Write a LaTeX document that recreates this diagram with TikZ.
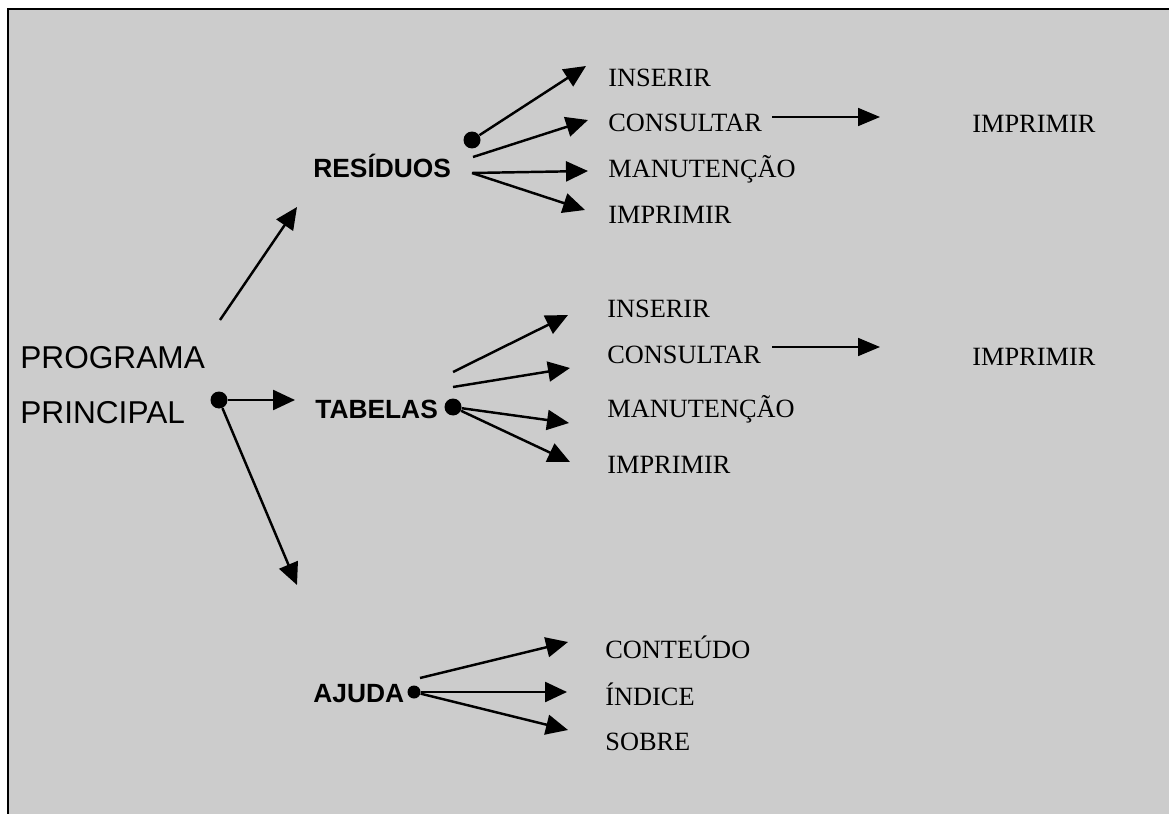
\documentclass[tikz,border=0pt]{standalone}
\usepackage{fontspec}
\setmainfont{Liberation Serif}
\setsansfont{Liberation Sans}
\usetikzlibrary{arrows.meta}
\tikzset{
  opt/.style={anchor=base west, inner sep=0pt, font=\fontsize{15}{18}\selectfont},
  menu/.style={anchor=base west, inner sep=0pt, font=\sffamily\bfseries\fontsize{15}{18}\selectfont},
  title/.style={anchor=base west, inner sep=0pt, font=\sffamily\fontsize{18}{21}\selectfont},
  joint/.style={circle, fill=black, inner sep=0pt, minimum size=#1},
  joint/.default=0.34cm,
  arr/.style={-{Triangle[length=0.44cm,width=0.4cm]}, line width=1.4pt},
  thinarr/.style={-{Triangle[length=0.44cm,width=0.36cm]}, line width=1pt}
}

\begin{document}
\begin{tikzpicture}[x=0.02cm, y=-0.02cm]
  \useasboundingbox (0,0) rectangle (1169,814);
  \fill[black!20] (8,9) rectangle (1169,814);
  \draw[line width=1.1pt] (8,814) -- (8,9) -- (1169,9);

  \node[title] (prog) at (20,368) {PROGRAMA};
  \node[title] (princ) at (20,423) {PRINCIPAL};
  \node[menu] (res) at (313,178) {RESÍDUOS};
  \node[menu] (tab) at (315,418) {TABELAS};
  \node[menu] (aju) at (313,702) {AJUDA};

  \foreach \n/\y/\lbl in {r1/87/INSERIR, r2/132/CONSULTAR, r3/178/MANUTENÇÃO, r4/223/IMPRIMIR}
    \node[opt] (\n) at (608,\y) {\lbl};
  \foreach \n/\y/\lbl in {t1/317/INSERIR, t2/363/CONSULTAR, t3/417/MANUTENÇÃO, t4/473/IMPRIMIR}
    \node[opt] (\n) at (607,\y) {\lbl};
  \foreach \n/\y/\lbl in {a1/658/CONTEÚDO, a2/705/ÍNDICE, a3/750/SOBRE}
    \node[opt] (\n) at (605,\y) {\lbl};
  \node[opt] (rprint) at (972,133) {IMPRIMIR};
  \node[opt] (tprint) at (972,365) {IMPRIMIR};

  \node[joint] (pgdot) at (219,400) {};
  \node[joint] (resdot) at (472,140) {};
  \node[joint] (tabdot) at (453,407) {};
  \node[joint=0.26cm] (ajdot) at (414,692) {};

  \coordinate (pg0) at (220,320);
  \coordinate (pg1) at (297,207);
  \coordinate (pg2) at (295,400);
  \coordinate (pg3) at (297,585);

  \coordinate (r-s2) at (473,157);
  \coordinate (r-s3) at (472,173);
  \coordinate (r-t1) at (586,66);
  \coordinate (r-t2) at (588,120);
  \coordinate (r-t3) at (588,171);
  \coordinate (r-t4) at (585,210);
  \coordinate (r-c0) at (772,117);
  \coordinate (r-c1) at (880,117);

  \coordinate (t-s1) at (453,372);
  \coordinate (t-s2) at (453,387);
  \coordinate (t-t1) at (568,315);
  \coordinate (t-t2) at (570,368);
  \coordinate (t-t3) at (569,423);
  \coordinate (t-t4) at (570,462);
  \coordinate (t-c0) at (772,347);
  \coordinate (t-c1) at (880,347);

  \coordinate (a-s1) at (420,678);
  \coordinate (a-t1) at (568,642);
  \coordinate (a-t2) at (567,692);
  \coordinate (a-t3) at (568,730);

  \foreach \a/\b in {pg0/pg1, pgdot/pg2, pgdot/pg3,
                     resdot/r-t1, r-s2/r-t2, r-s3/r-t3, r-s3/r-t4,
                     t-s1/t-t1, t-s2/t-t2, tabdot/t-t3, tabdot/t-t4,
                     a-s1/a-t1, ajdot/a-t2, ajdot/a-t3}
    \draw[arr] (\a) -- (\b);
  \foreach \a/\b in {r-c0/r-c1, t-c0/t-c1}
    \draw[thinarr] (\a) -- (\b);
\end{tikzpicture}
\end{document}
